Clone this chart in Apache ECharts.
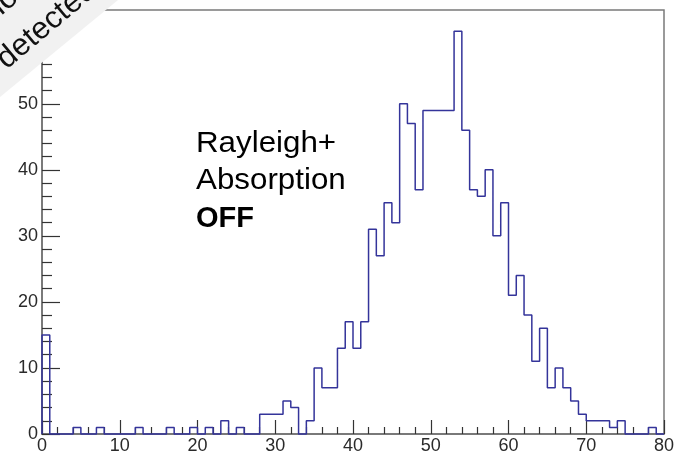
<!DOCTYPE html>
<html>
<head>
<meta charset="utf-8">
<script src="https://cdn.jsdelivr.net/npm/echarts@6/dist/echarts.min.js"></script>
<style>
  html, body { margin: 0; padding: 0; background: #fff; }
  #chart { width: 692px; height: 452px; }
</style>
</head>
<body>
<div id="chart"></div>
<script>
// Histogram: 80 bins of width 1 from 0 to 80
const binLow = 0;
const binWidth = 1;
const binCounts = [
  15, 0, 0, 0, 1, 0, 0, 1, 0, 0,
  0, 0, 1, 0, 0, 0, 1, 0, 0, 1,
  0, 1, 0, 2, 0, 1, 0, 0, 3, 3,
  3, 5, 4, 0, 2, 10, 7, 7, 13, 17,
  13, 17, 31, 27, 35, 32, 50, 47, 37, 49,
  49, 49, 49, 61, 46, 37, 36, 40, 30, 35,
  21, 24, 18, 11, 16, 7, 10, 7, 5, 3,
  2, 2, 2, 1, 2, 0, 0, 0, 1, 0
];
const xTickLabels = [0, 10, 20, 30, 40, 50, 60, 70, 80];
const yTickLabels = [0, 10, 20, 30, 40, 50, 60];
const annotationLines = ['Rayleigh+', 'Absorption', 'OFF'];
const bannerLines = ['Photons', 'detected'];

// Step outline: start at the baseline, then one point per bin low edge,
// closing at the upper edge of the last bin.
const outline = [[binLow, 0]];
binCounts.forEach((c, i) => outline.push([binLow + i * binWidth, c]));
outline.push([binLow + binCounts.length * binWidth, binCounts[binCounts.length - 1]]);
outline.push([binLow + binCounts.length * binWidth, 0]);

const FONT = '"Liberation Sans", Arial, Helvetica, sans-serif';
const chart = echarts.init(document.getElementById('chart'), null, { renderer: 'canvas' });

const deg = Math.PI / 180;

chart.setOption({
  animation: false,
  backgroundColor: '#ffffff',
  grid: {
    left: 42, right: 28, top: 10, bottom: 18,
    containLabel: false, outerBoundsMode: 'none',
    show: true, borderColor: '#7a7a7a', borderWidth: 1.5, backgroundColor: 'transparent'
  },
  xAxis: {
    type: 'value', min: 0, max: 80, interval: 10,
    axisLine: { lineStyle: { color: '#6f6f6f', width: 1.5 } },
    axisTick: { inside: true, length: 14, lineStyle: { color: '#333', width: 1.2 } },
    minorTick: { show: true, splitNumber: 5, length: 7, lineStyle: { color: '#333', width: 1.2 } },
    splitLine: { show: false },
    axisLabel: {
      margin: 3, color: '#2a2a2a', fontFamily: FONT, fontSize: 18,
      showMinLabel: true, showMaxLabel: true, hideOverlap: false,
      formatter: v => (xTickLabels.includes(v) ? String(v) : '')
    }
  },
  yAxis: {
    type: 'value', min: 0, max: 64.2, interval: 10,
    axisLine: { show: true, lineStyle: { color: '#6f6f6f', width: 1.5 } },
    axisTick: { show: true, inside: true, length: 18, lineStyle: { color: '#333', width: 1.2 } },
    minorTick: { show: true, splitNumber: 5, length: 10, lineStyle: { color: '#333', width: 1.2 } },
    splitLine: { show: false },
    axisLabel: {
      margin: 4, color: '#2a2a2a', fontFamily: FONT, fontSize: 18,
      showMaxLabel: false, hideOverlap: false,
      formatter: v => (yTickLabels.includes(v) ? String(v) : '')
    }
  },
  series: [{
    type: 'line',
    step: 'end',
    data: outline,
    symbol: 'none',
    clip: false,
    lineStyle: { color: '#34349a', width: 1.5 },
    z: 3
  }],
  graphic: [
    {
      type: 'text', x: 196, y: 129, scaleX: 1.08, z: 10,
      style: { text: annotationLines[0], fill: '#000', font: '29px ' + FONT }
    },
    {
      type: 'text', x: 196, y: 166, scaleX: 1.08, z: 10,
      style: { text: annotationLines[1], fill: '#000', font: '29px ' + FONT }
    },
    {
      type: 'text', x: 196, y: 204, scaleX: 1.0, z: 10,
      style: { text: annotationLines[2], fill: '#000', font: 'bold 29px ' + FONT }
    },
    // corner banner
    {
      type: 'polygon', z: 100,
      shape: { points: [[0, 0], [118, 0], [0, 97]] },
      style: { fill: '#f1f1f1', stroke: null }
    },
    {
      type: 'text', z: 101, x: 11, y: 75, rotation: 40 * deg,
      style: { text: bannerLines[1], fill: '#111', font: '31px ' + FONT, verticalAlign: 'bottom' }
    },
    {
      type: 'text', z: 101, x: -18, y: 41, rotation: 40 * deg,
      style: { text: bannerLines[0], fill: '#111', font: '31px ' + FONT, verticalAlign: 'bottom' }
    }
  ]
});
</script>
</body>
</html>
